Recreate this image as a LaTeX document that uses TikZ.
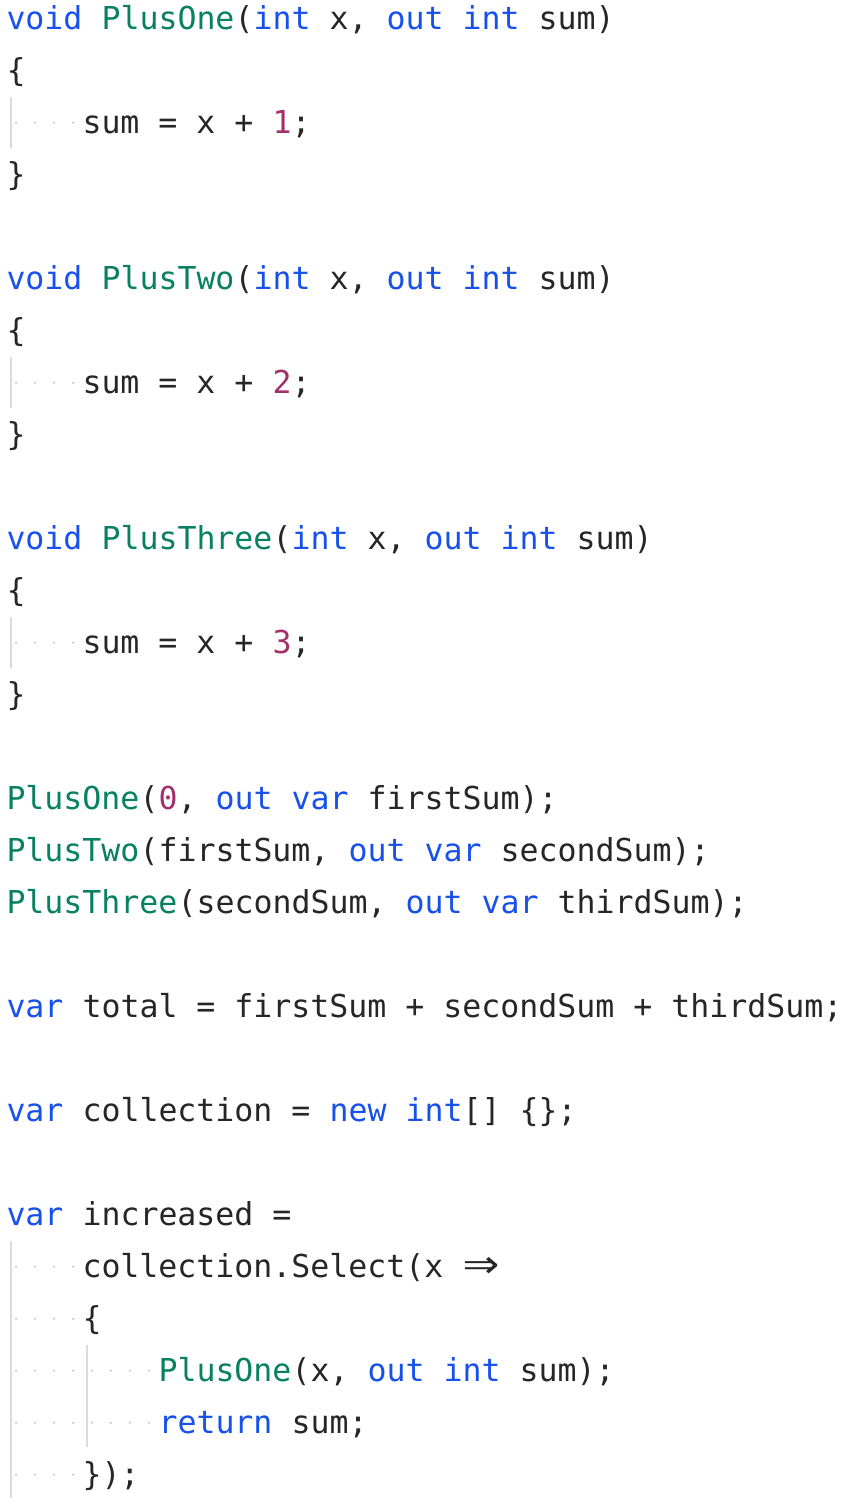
\documentclass[tikz,border=0pt]{standalone}
\usepackage{fontspec}
\newfontfamily\codefam{DejaVu Sans Mono}
\definecolor{kwc}{HTML}{1750EB}
\definecolor{fnc}{HTML}{07815F}
\definecolor{nmc}{HTML}{A3306A}
\definecolor{txtc}{HTML}{262626}
\definecolor{guidec}{HTML}{DADADA}
\definecolor{dotc}{HTML}{C4C4C4}
\newcommand\Kw[1]{\textcolor{kwc}{#1}}
\newcommand\Fn[1]{\textcolor{fnc}{#1}}
\newcommand\Nm[1]{\textcolor{nmc}{#1}}
\newlength\cwid
\setlength\cwid{19pt}
\begin{document}
\begin{tikzpicture}[x=1pt,y=-1pt,
  codeline/.style={anchor=base west, inner sep=0pt, outer sep=0pt,
    font=\codefam\fontsize{31.56}{52}\selectfont, text=txtc},
  guide/.style={draw=guidec, line width=2pt},
  wsdot/.style={fill=dotc, draw=none}]
\fill[white] (0,0) rectangle (844,1498);
\useasboundingbox (0,0) rectangle (844,1498);
\def\xo{6.5}
\def\cw{19}
% helper: baseline of line k = 20+52k+9.5
\node[codeline] (l0) at (\xo,29.5) {\Kw{void} \Fn{PlusOne}(\Kw{int} x, \Kw{out} \Kw{int} sum)};
\node[codeline] (l1) at (\xo,81.5) {\{};
\node[codeline] (l2) at (\xo+4*\cw,133.5) {sum = x + \Nm{1};};
\node[codeline] (l3) at (\xo,185.5) {\}};
\node[codeline] (l5) at (\xo,289.5) {\Kw{void} \Fn{PlusTwo}(\Kw{int} x, \Kw{out} \Kw{int} sum)};
\node[codeline] (l6) at (\xo,341.5) {\{};
\node[codeline] (l7) at (\xo+4*\cw,393.5) {sum = x + \Nm{2};};
\node[codeline] (l8) at (\xo,445.5) {\}};
\node[codeline] (l10) at (\xo,549.5) {\Kw{void} \Fn{PlusThree}(\Kw{int} x, \Kw{out} \Kw{int} sum)};
\node[codeline] (l11) at (\xo,601.5) {\{};
\node[codeline] (l12) at (\xo+4*\cw,653.5) {sum = x + \Nm{3};};
\node[codeline] (l13) at (\xo,705.5) {\}};
\node[codeline] (l15) at (\xo,809.5) {\Fn{PlusOne}(\Nm{0}, \Kw{out} \Kw{var} firstSum);};
\node[codeline] (l16) at (\xo,861.5) {\Fn{PlusTwo}(firstSum, \Kw{out} \Kw{var} secondSum);};
\node[codeline] (l17) at (\xo,913.5) {\Fn{PlusThree}(secondSum, \Kw{out} \Kw{var} thirdSum);};
\node[codeline] (l19) at (\xo,1017.5) {\Kw{var} total = firstSum + secondSum + thirdSum;};
\node[codeline] (l21) at (\xo,1121.5) {\Kw{var} collection = \Kw{new} \Kw{int}[] \{\};};
\node[codeline] (l23) at (\xo,1225.5) {\Kw{var} increased =};
\node[codeline] (l24) at (\xo+4*\cw,1277.5) {collection.Select(x \makebox[2\cwid]{\raisebox{-1.5pt}{\scalebox{1.9}[1.6]{⇒}}}};
\node[codeline] (l25) at (\xo+4*\cw,1329.5) {\{};
\node[codeline] (l26) at (\xo+8*\cw,1381.5) {\Fn{PlusOne}(x, \Kw{out} \Kw{int} sum);};
\node[codeline] (l27) at (\xo+8*\cw,1433.5) {\Kw{return} sum;};
\node[codeline] (l28) at (\xo+4*\cw,1485.5) {\});};
% indent guides
\draw[guide] (\xo+4.5,97) -- (\xo+4.5,148);
\draw[guide] (\xo+4.5,357) -- (\xo+4.5,408);
\draw[guide] (\xo+4.5,617) -- (\xo+4.5,668);
\draw[guide] (\xo+4.5,1241) -- (\xo+4.5,1498);
\draw[guide] (\xo+4*\cw+4.5,1345) -- (\xo+4*\cw+4.5,1447);
% whitespace dots
\foreach \c in {124,384,644,1268,1320,1476}{
  \foreach \i in {0,...,3}{
    \fill[wsdot] (\xo+\cw*\i+\cw/2,\c-1.3) circle (1.1);
  }
}
\foreach \c in {1372,1424}{
  \foreach \i in {0,...,7}{
    \fill[wsdot] (\xo+\cw*\i+\cw/2,\c-1.3) circle (1.1);
  }
}
\end{tikzpicture}
\end{document}
